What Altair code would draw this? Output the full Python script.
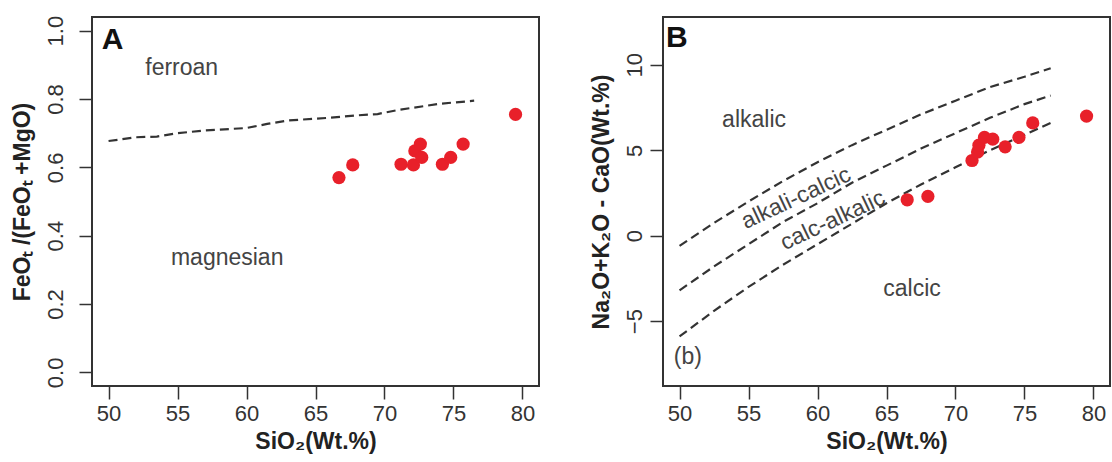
import altair as alt
import pandas as pd

FONT = "Liberation Sans"
RED = "#E8202A"
LINE = "#333333"
TXT = "#444444"

# ---------------- Panel A : FeOt/(FeOt+MgO) vs SiO2 ----------------
a_sio2 = [66.7, 67.7, 71.2, 72.1, 72.2, 72.6, 72.7, 74.2, 74.8, 75.7, 79.5]
a_feo = [0.570, 0.607, 0.609, 0.607, 0.648, 0.668, 0.629, 0.609, 0.629, 0.668, 0.755]

a_bound_x = [50, 52, 53.5, 55, 57, 60, 61.5, 63, 66, 68, 69.5, 71, 73, 74, 76.5]
a_bound_y = [0.677, 0.688, 0.690, 0.700, 0.708, 0.715, 0.727, 0.737, 0.745,
             0.752, 0.756, 0.768, 0.780, 0.786, 0.795]

a_lab_text = ["ferroan", "magnesian"]
a_lab_x = [55.3, 58.6]
a_lab_y = [0.891, 0.335]

a_ticks_x = [50, 55, 60, 65, 70, 75, 80]
a_ticks_y = [0.0, 0.2, 0.4, 0.6, 0.8, 1.0]

# ---------------- Panel B : MALI vs SiO2 ----------------
b_sio2 = [66.5, 68.0, 71.2, 71.6, 71.7, 72.1, 72.7, 73.6, 74.6, 75.6, 79.5]
b_mali = [2.1, 2.3, 4.4, 4.9, 5.3, 5.75, 5.65, 5.2, 5.75, 6.6, 7.0]

b_line_x = [50, 52.5, 55, 57.5, 60, 62.5, 65, 67.5, 70, 72.5, 75, 76.9]
b_alkalic = [-0.6, 0.75, 2.0, 3.2, 4.3, 5.3, 6.2, 7.1, 7.9, 8.7, 9.3, 9.8]
b_alkcalc = [-3.2, -1.8, -0.5, 0.8, 1.9, 3.1, 4.1, 5.1, 6.0, 6.9, 7.7, 8.2]
b_calcalk = [-5.9, -4.4, -3.0, -1.7, -0.5, 0.7, 1.9, 3.0, 4.0, 5.0, 5.9, 6.6]

b_lab_text = ["alkalic", "calcic", "(b)"]
b_lab_x = [55.4, 66.85, 50.6]
b_lab_y = [6.8, -3.1, -7.1]

b_rot_text = ["alkali-calcic", "calc-alkalic"]
b_rot_x = [58.45, 61.1]
b_rot_y = [2.2, 0.9]

b_ticks_x = [50, 55, 60, 65, 70, 75, 80]
b_ticks_y = [-5, 0, 5, 10]

W, H = 447, 369

xscale = alt.Scale(domain=[48.8, 81.2], nice=False, zero=False)
ascale = alt.Scale(domain=[-0.04, 1.04], nice=False, zero=False)
bscale = alt.Scale(domain=[-8.8, 12.8], nice=False, zero=False)

x_title = "SiO\u2082(Wt.%)"


def xaxis(vals):
    return alt.Axis(values=vals, title=x_title, labelPadding=4, titlePadding=6,
                    labelFlush=False, labelAngle=0)


def yaxis(vals, title, lpad, tpad, fmt):
    return alt.Axis(values=vals, title=title, format=fmt, labelAngle=270,
                    labelAlign="center", labelBaseline="bottom",
                    labelPadding=lpad, titlePadding=tpad, labelFlush=False)


# ---- A
ax_x = xaxis(a_ticks_x)
ax_y = yaxis(a_ticks_y, "FeO\u209c /(FeO\u209c +MgO)", 12, 10, ".1f")


def ex_a():
    return alt.X("x:Q", scale=xscale, axis=ax_x)


def ey_a():
    return alt.Y("y:Q", scale=ascale, axis=ax_y)


a_pts = pd.DataFrame({"x": a_sio2, "y": a_feo})
a_line = pd.DataFrame({"x": a_bound_x, "y": a_bound_y})
a_labs = pd.DataFrame({"x": a_lab_x, "y": a_lab_y, "t": a_lab_text})
a_letter = pd.DataFrame({"x": [50.3], "y": [0.972], "t": ["A"]})

A = alt.layer(
    alt.Chart(a_line).mark_line(color=LINE, strokeWidth=2.2, strokeDash=[9, 5]).encode(x=ex_a(), y=ey_a()),
    alt.Chart(a_pts).mark_circle(size=175, color=RED, opacity=1).encode(x=ex_a(), y=ey_a()),
    alt.Chart(a_labs).mark_text(font=FONT, fontSize=23, color=TXT).encode(x=ex_a(), y=ey_a(), text="t:N"),
    alt.Chart(a_letter).mark_text(font=FONT, fontSize=30, fontWeight="bold", color="#111").encode(
        x=ex_a(), y=ey_a(), text="t:N"),
).properties(width=W, height=H)

# ---- B
bx_x = xaxis(b_ticks_x)
bx_y = yaxis(b_ticks_y, "Na\u2082O+K\u2082O - CaO(Wt.%)", 4, 10, "d")


def ex_b():
    return alt.X("x:Q", scale=xscale, axis=bx_x)


def ey_b():
    return alt.Y("y:Q", scale=bscale, axis=bx_y)


rows = []
for name, ys in [("alk", b_alkalic), ("ac", b_alkcalc), ("ca", b_calcalk)]:
    for xv, yv in zip(b_line_x, ys):
        rows.append({"x": xv, "y": yv, "g": name})
b_lines = pd.DataFrame(rows)
b_pts = pd.DataFrame({"x": b_sio2, "y": b_mali})
b_labs = pd.DataFrame({"x": b_lab_x, "y": b_lab_y, "t": b_lab_text})
b_rot = pd.DataFrame({"x": b_rot_x, "y": b_rot_y, "t": b_rot_text})
b_letter = pd.DataFrame({"x": [49.8], "y": [11.6], "t": ["B"]})

B = alt.layer(
    alt.Chart(b_lines).mark_line(color=LINE, strokeWidth=2.2, strokeDash=[9, 5]).encode(
        x=ex_b(), y=ey_b(), detail="g:N"),
    alt.Chart(b_pts).mark_circle(size=175, color=RED, opacity=1).encode(x=ex_b(), y=ey_b()),
    alt.Chart(b_labs).mark_text(font=FONT, fontSize=23, color=TXT).encode(x=ex_b(), y=ey_b(), text="t:N"),
    alt.Chart(b_rot).mark_text(font=FONT, fontSize=23, color=TXT, angle=335).encode(
        x=ex_b(), y=ey_b(), text="t:N"),
    alt.Chart(b_letter).mark_text(font=FONT, fontSize=30, fontWeight="bold", color="#111").encode(
        x=ex_b(), y=ey_b(), text="t:N"),
).properties(width=W, height=H)

chart = alt.hconcat(A, B, spacing=124, bounds="flush").properties(
    padding={"left": 10, "top": 14, "right": 0, "bottom": 0}
).configure(
    font=FONT, background="white"
).configure_view(
    stroke="#333333", strokeWidth=2
).configure_axis(
    domain=False, grid=False, tickColor="#333333", tickWidth=1.5, tickSize=13,
    labelFont=FONT, labelFontSize=22, labelColor="#333333",
    titleFont=FONT, titleFontSize=23, titleFontWeight="bold", titleColor="#222222",
)

chart.save("out.html", embed_options={"renderer": "svg", "actions": False})
